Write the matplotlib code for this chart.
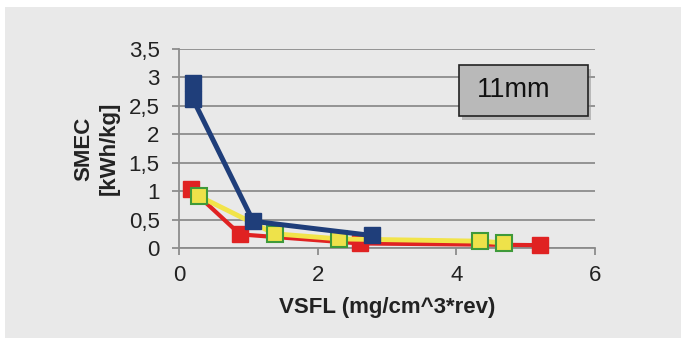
import matplotlib
matplotlib.use("Agg")
import matplotlib.pyplot as plt
from matplotlib.patches import Rectangle

plt.rcParams['font.family'] = ['Liberation Sans', 'DejaVu Sans']

blue_x = [0.20, 0.20, 1.07, 2.78]
blue_y = [2.90, 2.62, 0.47, 0.22]
red_x = [0.18, 0.88, 2.61, 5.20]
red_y = [1.03, 0.24, 0.08, 0.05]
yellow_x = [0.29, 1.38, 2.31, 4.34, 4.69]
yellow_y = [0.91, 0.25, 0.16, 0.12, 0.09]

xticks = [0, 2, 4, 6]
yticks = [0, 0.5, 1, 1.5, 2, 2.5, 3, 3.5]
ytick_labels = ['0', '0,5', '1', '1,5', '2', '2,5', '3', '3,5']

W, H = 681, 338
panel_bg = '#e9e9e9'
fig = plt.figure(figsize=(W / 100, H / 100), dpi=100)
fig.patch.set_facecolor(panel_bg)
# white border strips at top and left
fig.patches.append(Rectangle((0, 1 - 7 / H), 1, 7 / H, transform=fig.transFigure,
                             facecolor='white', edgecolor='none', zorder=-10))
fig.patches.append(Rectangle((0, 0), 5 / W, 1, transform=fig.transFigure,
                             facecolor='white', edgecolor='none', zorder=-10))

ax = fig.add_axes([179 / W, (H - 248) / H, 416 / W, 199 / H])
ax.set_facecolor(panel_bg)
ax.set_xlim(0, 6)
ax.set_ylim(0, 3.5)
ax.set_xticks(xticks)
ax.set_yticks(yticks)
ax.set_yticklabels(ytick_labels)
ax.grid(axis='y', color='#8c8c8c', linewidth=1.3)
ax.set_axisbelow(True)
for s in ['top', 'right']:
    ax.spines[s].set_visible(False)
for s in ['left', 'bottom']:
    ax.spines[s].set_color('#8c8c8c')
    ax.spines[s].set_linewidth(1.3)
ax.tick_params(axis='both', colors='#8c8c8c', labelcolor='#222222', labelsize=16,
               length=5, width=1.3)
ax.tick_params(axis='y', pad=9)
ax.tick_params(axis='x', pad=7)

ax.plot(red_x, red_y, color='#e02222', lw=3, marker='s', ms=12, mfc='#e02222',
        mec='#e02222', clip_on=False, zorder=3)
ax.plot(yellow_x, yellow_y, color='#f2e44a', lw=3.5, marker='s', ms=12, mfc='#eee24a',
        mec='#3f9a3a', mew=1.5, clip_on=False, zorder=4)
ax.plot(blue_x, blue_y, color='#1f3e7a', lw=3.6, marker='s', ms=12, mfc='#1f3e7a',
        mec='#1f3e7a', clip_on=False, zorder=5)

ax.set_xlabel('VSFL (mg/cm^3*rev)', fontsize=16, fontweight='bold', labelpad=8, color='#222222')
ax.set_ylabel('SMEC\n[kWh/kg]', fontsize=16, fontweight='bold', labelpad=6, color='#222222',
              linespacing=1.3)

# label box
bx0, by0 = 0.672, 0.663
bw, bh = 0.311, 0.257
shadow = Rectangle((bx0 + 0.008, by0 - 0.02), bw, bh, transform=ax.transAxes,
                   facecolor='#9a9a9a', edgecolor='none', alpha=0.6, zorder=6, clip_on=False)
ax.add_patch(shadow)
box = Rectangle((bx0, by0), bw, bh, transform=ax.transAxes, facecolor='#b9b9b9',
                edgecolor='#222222', lw=1.2, zorder=7, clip_on=False)
ax.add_patch(box)
ax.text(bx0 + 0.043, by0 + bh / 2, '11mm', transform=ax.transAxes, fontsize=19.5,
        va='center', ha='left', color='#111111', zorder=8)

fig.savefig('out.png', dpi=100, facecolor=fig.get_facecolor())
